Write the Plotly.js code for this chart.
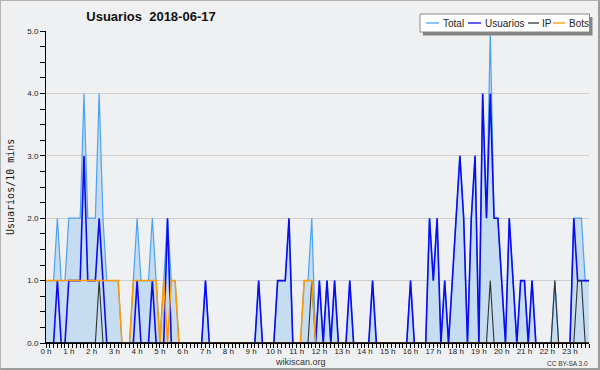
<!DOCTYPE html>
<html><head><meta charset="utf-8">
<script src="https://cdn.plot.ly/plotly-3.0.1.min.js"></script>
<style>
body{margin:0;background:#eff0f2}
#wrap{position:relative;width:600px;height:370px}
#chart{width:600px;height:370px}
#frame{position:absolute;left:0;top:0;width:600px;height:370px;box-sizing:border-box;border:1px solid #b4b4b4;border-right:2px solid #9c9c9c;border-bottom:2px solid #9c9c9c;pointer-events:none}
</style>
</head><body><div id="wrap"><div id="chart"></div><div id="frame"></div></div>
<script>
// 10-minute slots, 00:00 .. 23:50
const hourLabels = ["0 h","1 h","2 h","3 h","4 h","5 h","6 h","7 h","8 h","9 h","10 h","11 h","12 h","13 h","14 h","15 h","16 h","17 h","18 h","19 h","20 h","21 h","22 h","23 h"];

const total = [
 1,1,1,2,1,1,2,2,2,2,
 4,2,2,2,4,2,1,1,1,1,
 0,0,0,1,2,1,1,1,2,1,
 0,1,2,1,1,0,0,0,0,0,
 0,0,1,0,0,0,0,0,0,0,
 0,0,0,0,0,0,1,0,0,0,
 0,1,1,1,2,0,0,0,1,1,
 2,0,1,0,1,0,1,0,0,0,
 1,0,0,0,0,0,1,0,0,0,
 0,0,0,0,0,0,1,0,0,0,
 0,2,1,2,0,1,0,1,2,3,
 2,0,2,3,0,4,2,5,2,2,
 1,0,2,1,0,1,1,0,1,0,
 0,0,0,0,1,0,0,0,0,2,
 2,2,1,1];

const usuarios = [
 0,0,0,1,0,0,1,1,1,1,
 3,1,1,1,2,1,0,0,0,0,
 0,0,0,0,1,0,0,0,1,0,
 0,0,2,0,0,0,0,0,0,0,
 0,0,1,0,0,0,0,0,0,0,
 0,0,0,0,0,0,1,0,0,0,
 0,1,1,1,2,0,0,0,0,0,
 0,0,1,0,1,0,1,0,0,0,
 1,0,0,0,0,0,1,0,0,0,
 0,0,0,0,0,0,1,0,0,0,
 0,2,1,2,0,1,0,1,2,3,
 2,0,2,3,0,4,2,4,2,2,
 1,0,2,1,0,1,1,0,1,0,
 0,0,0,0,0,0,0,0,0,2,
 1,1,1,1];

const ip = [
 0,0,0,0,0,0,0,0,0,0,
 0,0,0,0,1,0,0,0,0,0,
 0,0,0,0,0,0,0,0,0,0,
 0,0,0,0,0,0,0,0,0,0,
 0,0,0,0,0,0,0,0,0,0,
 0,0,0,0,0,0,0,0,0,0,
 0,0,0,0,0,0,0,0,0,0,
 1,0,0,0,0,0,0,0,0,0,
 0,0,0,0,0,0,0,0,0,0,
 0,0,0,0,0,0,0,0,0,0,
 0,0,0,0,0,0,0,0,0,0,
 0,0,0,0,0,0,0,1,0,0,
 0,0,0,0,0,0,0,0,0,0,
 0,0,0,0,1,0,0,0,0,0,
 1,1,0,0];

const bots = [
 1,1,1,1,1,1,1,1,1,1,
 1,1,1,1,1,1,1,1,1,1,
 0,0,0,1,1,1,1,1,1,1,
 0,1,0,1,1,0,0,0,0,0,
 0,0,0,0,0,0,0,0,0,0,
 0,0,0,0,0,0,0,0,0,0,
 0,0,0,0,0,0,0,0,1,1,
 1,0,0,0,0,0,0,0,0,0,
 0,0,0,0,0,0,0,0,0,0,
 0,0,0,0,0,0,0,0,0,0,
 0,0,0,0,0,0,0,0,0,0,
 0,0,0,0,0,0,0,0,0,0,
 0,0,0,0,0,0,0,0,0,0,
 0,0,0,0,0,0,0,0,0,0,
 0,0,0,0];

const slotIdx = total.map((_, i) => i);
const hourTicks = hourLabels.map((_, h) => h * 6);

const colors = {total:'#4aa3f5', fill:'#c6dcf0', usuarios:'#0c0cf2', ip:'#333333', bots:'#ff9a00'};

const traces = [
 {x:slotIdx, y:total, type:'scatter', mode:'lines', fill:'tozeroy', fillcolor:colors.fill, line:{color:colors.total, width:1.2}, hoverinfo:'skip'},
 {x:slotIdx, y:usuarios, type:'scatter', mode:'lines', line:{color:colors.usuarios, width:1.6}, hoverinfo:'skip'},
 {x:slotIdx, y:ip, type:'scatter', mode:'lines', line:{color:colors.ip, width:1.1}, hoverinfo:'skip'},
 {x:slotIdx, y:bots, type:'scatter', mode:'lines', line:{color:colors.bots, width:1.5}, hoverinfo:'skip'}
];

// pixel -> paper helpers (plot area 46..589 x, 31..343 y)
const L=46, R=589, T=31, B=343;
const px = v => (v - L) / (R - L);
const py = v => (B - v) / (B - T);

const legendItems = [
 {name:'Total', color:colors.total, x0:426, x1:439, tx:442},
 {name:'Usuarios', color:colors.usuarios, x0:468, x1:481, tx:484},
 {name:'IP', color:colors.ip, x0:528, x1:539, tx:541},
 {name:'Bots', color:colors.bots, x0:553, x1:565, tx:568}
];

const shapes = [
 // baseline drawn over the series so zero-level lines sit under the axis
 {type:'line', xref:'paper', yref:'y', x0:0, x1:1, y0:0, y1:0, line:{color:'#000', width:1.6}, layer:'above'},
 {type:'rect', xref:'paper', yref:'paper', x0:px(423), x1:px(592.5), y0:py(35.5), y1:py(17), fillcolor:'#858585', line:{width:0}, layer:'above'},
 {type:'rect', xref:'paper', yref:'paper', x0:px(420), x1:px(589.5), y0:py(32), y1:py(14), fillcolor:'#ffffff', line:{color:'#8a8a8a', width:1}, layer:'above'}
];
legendItems.forEach(it => shapes.push({type:'line', xref:'paper', yref:'paper', x0:px(it.x0), x1:px(it.x1), y0:py(23), y1:py(23), line:{color:it.color, width:1.3}, layer:'above'}));

const annotations = legendItems.map(it => ({xref:'paper', yref:'paper', x:px(it.tx), y:py(23), xanchor:'left', yanchor:'middle', text:it.name, showarrow:false, borderpad:0, font:{family:'Liberation Sans, Arial, sans-serif', size:10, color:'#222'}}));
annotations.push({xref:'paper', yref:'paper', x:px(10), y:py(187), xanchor:'center', yanchor:'middle', textangle:-90, text:'Usuarios/10 mins', showarrow:false, font:{family:'DejaVu Sans Mono, monospace', size:10, color:'#222'}});
annotations.push({xref:'paper', yref:'paper', x:px(300), y:py(362), xanchor:'center', yanchor:'middle', text:'wikiscan.org', showarrow:false, font:{family:'Liberation Sans, Arial, sans-serif', size:9, color:'#333'}});
annotations.push({xref:'paper', yref:'paper', x:px(590), y:py(363), xanchor:'right', yanchor:'middle', text:'CC BY-SA 3.0', showarrow:false, font:{family:'Liberation Sans, Arial, sans-serif', size:6.5, color:'#333'}});

const layout = {
 width:600, height:370,
 margin:{l:L, r:600-R, t:T, b:370-B, pad:0},
 paper_bgcolor:'#eff0f2', plot_bgcolor:'#eff0f2',
 showlegend:false,
 font:{family:'Liberation Sans, Arial, sans-serif', size:8, color:'#222'},
 title:{text:'<b>Usuarios\u00a0\u00a02018-06-17</b>', font:{family:'Liberation Sans, Arial, sans-serif', size:13, color:'#111'}, x:151/600, xref:'container', xanchor:'center', y:1-16.7/370, yref:'container', yanchor:'middle'},
 xaxis:{range:[0,143], tickmode:'array', tickvals:hourTicks, ticktext:hourLabels, ticks:'outside', ticklen:4, tickcolor:'#000', tickwidth:1, ticklabelstandoff:-4, showline:true, linecolor:'#000', linewidth:1, layer:'above traces', showgrid:false, zeroline:false, tickfont:{size:8, color:'#222'}, minor:{tick0:0, dtick:1, ticks:'outside', ticklen:4, tickcolor:'#000', tickwidth:1, showgrid:false}, fixedrange:true},
 yaxis:{range:[0,5], tickmode:'linear', tick0:0, dtick:1, tickformat:'.1f', ticks:'outside', ticklen:5, tickcolor:'#000', showline:true, linecolor:'#000', linewidth:1, layer:'above traces', showgrid:true, gridcolor:'#cdcdcd', gridwidth:1, zeroline:false, tickfont:{size:8, color:'#222'}, minor:{tick0:0, dtick:0.25, ticks:'outside', ticklen:5, tickcolor:'#000', showgrid:false}, fixedrange:true},
 shapes:shapes,
 annotations:annotations
};

Plotly.newPlot('chart', traces, layout, {displayModeBar:false, staticPlot:true});
</script></body></html>
